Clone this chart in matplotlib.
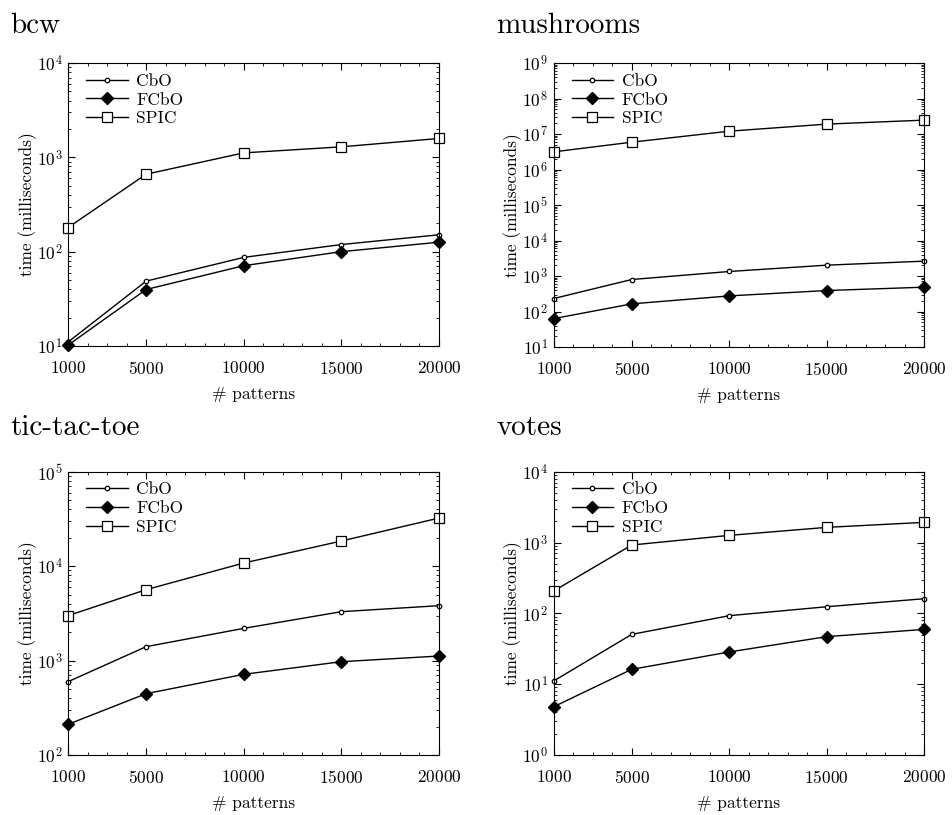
import numpy as np
import matplotlib
matplotlib.use("Agg")
import matplotlib.pyplot as plt
from matplotlib.ticker import LogLocator, MultipleLocator, FixedLocator, NullFormatter

plt.rcParams["font.family"] = "serif"
plt.rcParams["font.serif"] = ["cmr10", "DejaVu Serif"]
plt.rcParams["mathtext.fontset"] = "cm"
plt.rcParams["axes.formatter.use_mathtext"] = True
plt.rcParams["font.size"] = 12.5

#=====================#
patterns = [1000, 5000, 10000, 15000, 20000]

bcw_cbo = [11, 48.7, 87, 119, 151]
bcw_fcbo = [10.2, 39.7, 71, 100, 126]
bcw_spic = [180, 662, 1115, 1292, 1585]

mush_cbo = [232, 796, 1340, 2020, 2620]
mush_fcbo = [63, 164, 275, 390, 484]
mush_spic = [3.14e6, 5.88e6, 1.2e7, 1.9e7, 2.46e7]

ttt_cbo = [597, 1403, 2193, 3294, 3813]
ttt_fcbo = [211, 446, 715, 973, 1117]
ttt_spic = [2988, 5632, 10790, 18450, 32300]

votes_cbo = [11.1, 50.5, 92.7, 124, 161]
votes_fcbo = [4.8, 16.2, 28.5, 46.9, 59.4]
votes_spic = [207, 922, 1262, 1637, 1927]

titles = ["bcw", "mushrooms", "tic-tac-toe", "votes"]
ylims = [(1e1, 1e4), (1e1, 1e9), (1e2, 1e5), (1e0, 1e4)]
#=====================#

panels = [
    (bcw_cbo, bcw_fcbo, bcw_spic),
    (mush_cbo, mush_fcbo, mush_spic),
    (ttt_cbo, ttt_fcbo, ttt_spic),
    (votes_cbo, votes_fcbo, votes_spic),
]

fig = plt.figure(figsize=(9.52, 8.15), dpi=100)

W, H = 952.0, 815.0
boxes = [
    (68, 63, 439, 346),
    (553.7, 63, 924.3, 347),
    (68, 471.7, 439, 755),
    (553.7, 471.7, 924.3, 755),
]
title_pos = [(10, 33), (496, 33), (10, 435), (496, 435)]

for k in range(4):
    x0, y0, x1, y1 = boxes[k]
    ax = fig.add_axes([x0 / W, 1 - y1 / H, (x1 - x0) / W, (y1 - y0) / H])
    cbo, fcbo, spic = panels[k]

    ax.plot(patterns, cbo, color="black", lw=1, marker="o", ms=3.2,
            mfc="white", mec="black", mew=0.9, label="CbO")
    ax.plot(patterns, fcbo, color="black", lw=1, marker="D", ms=6.5,
            mfc="black", mec="black", label="FCbO")
    ax.plot(patterns, spic, color="black", lw=1, marker="s", ms=7,
            mfc="white", mec="black", mew=0.9, label="SPIC")
    for l in ax.lines:
        l.set_clip_on(False)

    ax.set_yscale("log")
    ax.set_xlim(1000, 20000)
    ax.set_ylim(*ylims[k])
    ax.xaxis.set_major_locator(FixedLocator(patterns))
    ax.xaxis.set_minor_locator(MultipleLocator(1000))
    ax.yaxis.set_major_locator(LogLocator(base=10, numticks=20))
    ax.yaxis.set_minor_locator(LogLocator(base=10, subs=np.arange(2, 10), numticks=20))
    ax.yaxis.set_minor_formatter(NullFormatter())
    ax.tick_params(which="both", direction="in", top=True, right=True, labelsize=12.5)
    ax.tick_params(which="major", length=5, width=0.8)
    ax.tick_params(which="minor", length=2.5, width=0.6)
    ax.tick_params(axis="x", pad=10)
    ax.tick_params(axis="y", pad=4)

    ax.set_xlabel("# patterns", labelpad=7)
    ax.set_ylabel("time (milliseconds)", labelpad=0)

    ax.legend(loc="upper left", frameon=False, handlelength=2.4, handletextpad=0.5,
              labelspacing=0.2, borderaxespad=0.2, bbox_to_anchor=(0.02, 1.0),
              fontsize=12.5)

    tx, ty = title_pos[k]
    fig.text(tx / W, 1 - ty / H, titles[k], fontsize=21, ha="left", va="baseline")

fig.savefig("out.png", dpi=100)
